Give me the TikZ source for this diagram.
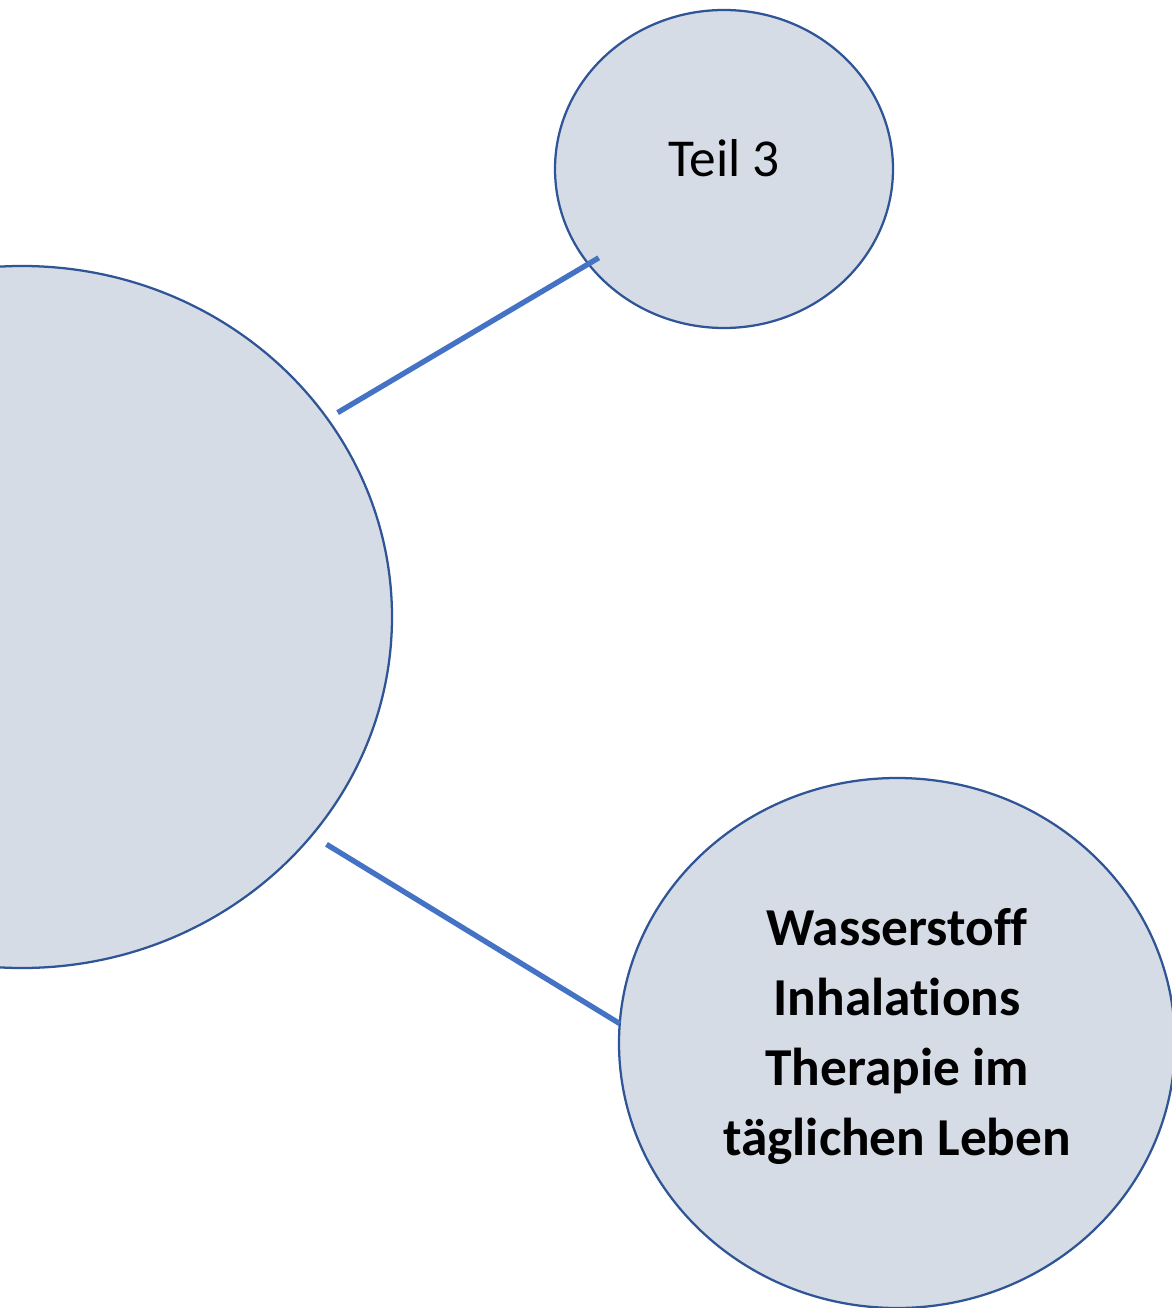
\documentclass[tikz,border=0pt]{standalone}
\usepackage{fontspec}
\setmainfont[Ligatures=NoCommon]{Carlito}
\usetikzlibrary{shapes.geometric}

\definecolor{bubblefill}{RGB}{214,220,229}
\definecolor{bubbleline}{RGB}{47,85,151}
\definecolor{linkblue}{RGB}{68,114,196}

\tikzset{every picture/.style={line width=0.75pt}}
\tikzset{
  bubble/.style={ellipse, draw=bubbleline, fill=bubblefill, line width=1.7pt, outer sep=0pt, inner sep=0pt},
  link/.style={draw=linkblue, line width=4pt},
  bubbletext/.style={inner sep=0.75pt, font=\fontsize{40}{52.5}\selectfont, align=center}
}

\begin{document}
\begin{tikzpicture}[x=0.75pt,y=0.75pt,yscale=-1,xscale=1]
\useasboundingbox (0,0) rectangle (1171,1308);

%Shape: Ellipse [big]
\node [bubble, minimum width=555pt, minimum height=526.5pt] (big) at (22,617) {};
%Shape: Ellipse [teil]
\node [bubble, minimum width=253.5pt, minimum height=238.5pt] (teil) at (724,169) {};
%Shape: Ellipse [wasser]
\node [bubble, minimum width=417pt, minimum height=397.5pt] (wasser) at (897,1043) {};

%Straight Lines
\draw [link, shorten <=9pt, shorten >=-9pt] (big.33) -- (teil.215) ;
%Straight Lines
\draw [link, shorten <=13pt] (big.-37) -- (wasser.176) ;

% Text Node
\node [bubbletext] (teiltxt) at (724,158) {Teil 3};
% Text Node
\node [bubbletext, font=\fontsize{40}{52.5}\selectfont\bfseries] (wassertxt) at (897,1036) {Wasserstoff\\Inhalations\\Therapie im\\täglichen Leben};

\end{tikzpicture}
\end{document}
